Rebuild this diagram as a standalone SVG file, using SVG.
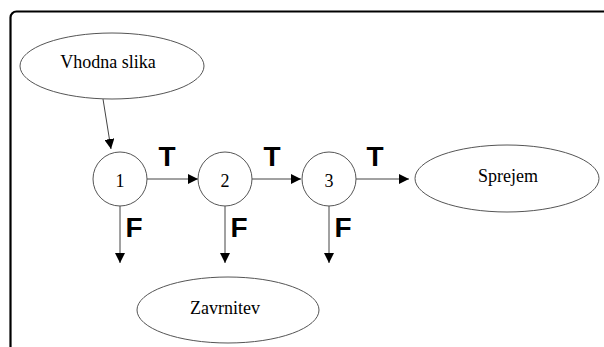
<svg xmlns="http://www.w3.org/2000/svg" width="604" height="347" viewBox="0 0 604 347">
<style>
.frame{fill:none;stroke:#000;stroke-width:2.2}
.shape{fill:#fff;stroke:#555;stroke-width:1}
.lbl{font-family:"Liberation Serif",serif;fill:#000;text-anchor:middle}
.tf{font-family:"Liberation Sans",Arial,sans-serif;font-weight:bold;font-size:28px;fill:#000;text-anchor:middle}
.conn{stroke:#444;stroke-width:1;fill:none;marker-end:url(#ah)}
</style>
<defs>
<marker id="ah" viewBox="0 0 10 10" refX="10" refY="5" markerWidth="10" markerHeight="10" markerUnits="userSpaceOnUse" orient="auto">
<path d="M0,0 L10,5 L0,10 Z" fill="#000"/>
</marker>
</defs>
<rect class="frame" x="10.5" y="11.5" width="700" height="500" rx="6"/>
<g id="connectors">
<line class="conn" x1="103" y1="99" x2="111" y2="149"/>
<line class="conn" x1="147" y1="179" x2="198" y2="179"/>
<line class="conn" x1="252" y1="179" x2="301" y2="179"/>
<line class="conn" x1="356" y1="179" x2="409" y2="179"/>
<line class="conn" x1="120" y1="205" x2="120" y2="263"/>
<line class="conn" x1="225" y1="205" x2="225" y2="263"/>
<line class="conn" x1="329" y1="205" x2="329" y2="263"/>
<text class="tf" x="167" y="166">T</text>
<text class="tf" x="272" y="166">T</text>
<text class="tf" x="375" y="166">T</text>
<text class="tf" x="134" y="237">F</text>
<text class="tf" x="239" y="237">F</text>
<text class="tf" x="343" y="237">F</text>
</g>
<g id="vhodna">
<ellipse class="shape" cx="112" cy="66" rx="92" ry="33"/>
<text class="lbl" x="108" y="68" font-size="18">Vhodna slika</text>
</g>
<g id="n1">
<circle class="shape" cx="120" cy="179" r="27"/>
<text class="lbl" x="120" y="187" font-size="18">1</text>
</g>
<g id="n2">
<circle class="shape" cx="225" cy="179" r="27"/>
<text class="lbl" x="225" y="187" font-size="18">2</text>
</g>
<g id="n3">
<circle class="shape" cx="329" cy="179" r="27"/>
<text class="lbl" x="329" y="187" font-size="18">3</text>
</g>
<g id="sprejem">
<ellipse class="shape" cx="507" cy="178.5" rx="92" ry="33.5"/>
<text class="lbl" x="508" y="182" font-size="18">Sprejem</text>
</g>
<g id="zavrnitev">
<ellipse class="shape" cx="228" cy="310" rx="91" ry="33"/>
<text class="lbl" x="225" y="314" font-size="18">Zavrnitev</text>
</g>
</svg>
